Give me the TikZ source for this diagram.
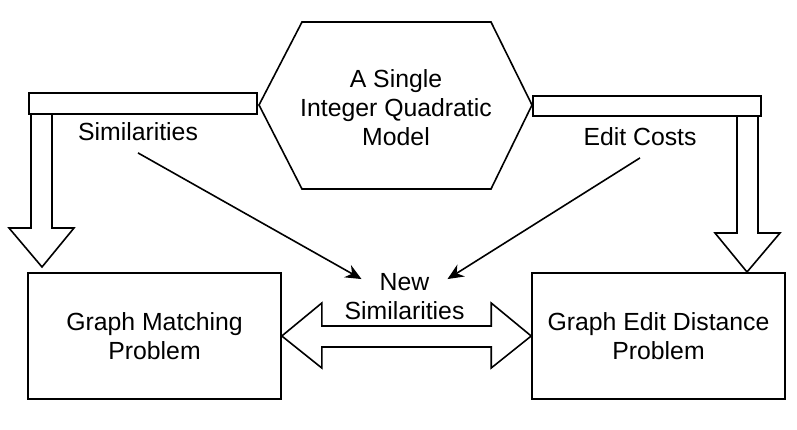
\documentclass[tikz,border=0pt]{standalone}
\usepackage{fontspec}
\setmainfont{Liberation Sans}
\usetikzlibrary{arrows.meta,positioning}

\begin{document}
\begin{tikzpicture}[x=1pt,y=-1pt,line width=1.6pt,
  lbl/.style={font=\fontsize{24.8}{29}\selectfont,align=center,inner sep=0pt},
  prob/.style={draw,lbl,minimum width=253pt,minimum height=126pt},
  feed/.style={line width=1.6pt,-{Stealth[length=16pt,width=14pt]}}]
  \useasboundingbox (0,0) rectangle (797,429);
  % the model in the middle
  \draw (302,22)--(491,22)--(532,105)--(491,189)--(302,189)--(259,105)--cycle;
  \node[lbl] (model) at (396,108) {A Single\\Integer Quadratic\\Model};
  % the two problems
  \node[prob] (gm) at (154.5,336) {Graph Matching\\Problem};
  \node[prob] (ged) at (658.5,336) {Graph Edit Distance\\Problem};
  % block arrows from the model down to the problems
  \draw (29,93) rectangle (257,114);
  \draw (31,114)--(31,228)--(9,228)--(42,267)--(74,228)--(52,228)--(52,114);
  \draw (533,96) rectangle (761,116);
  \draw (737,116)--(737,233)--(715,233)--(747,272)--(780,233)--(758,233)--(758,116);
  \node[lbl] (sim) at (138,132) {Similarities};
  \node[lbl] (cost) at (640,137) {Edit Costs};
  % double arrow between the problems
  \draw (gm.east) -- ++(40,-33) -- ++(0,23) -- ([xshift=-40pt,yshift=10pt]ged.west)
    -- ++(0,-23) -- (ged.west) -- ++(-40,32) -- ++(0,-21)
    -- ([xshift=40pt,yshift=-11pt]gm.east) -- ++(0,21) -- cycle;
  \node[lbl] (newsim) at (404.5,297) {New\\Similarities};
  \draw[feed] (sim.south) ++(0,11) -- ([xshift=-43pt,yshift=-6pt]newsim.north);
  \draw[feed] (cost.south) ++(0,11) -- ([xshift=43pt,yshift=-6pt]newsim.north);
\end{tikzpicture}
\end{document}
